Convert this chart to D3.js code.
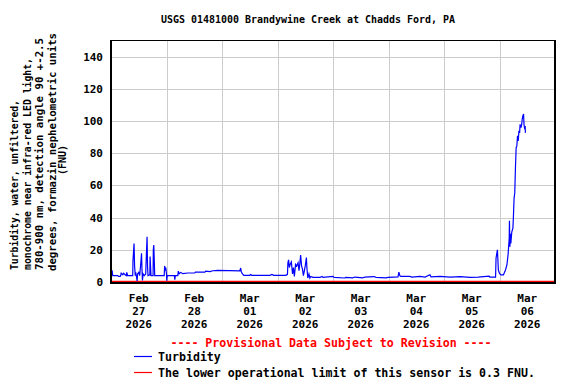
<!DOCTYPE html>
<html><head><meta charset="utf-8">
<script src="https://cdn.jsdelivr.net/npm/d3@7"></script>
<style>
html,body{margin:0;padding:0;background:#fff;}
svg text{font-family:"DejaVu Sans Mono","Liberation Mono",monospace;font-weight:bold;font-size:10px;}
</style></head>
<body><svg id="c" width="576" height="384"></svg>
<script>
// ---- data (hours since 2026-02-27 00:00, turbidity FNU) ----
const hours = [0,0.1,0.5,0.75,2.9,3.3,4,4.2,4.4,5.1,5.5,6.1,6.6,6.8,7.2,9.4,9.5,9.96,10.2,10.5,10.7,11.1,11.3,11.5,12,12.4,12.9,13.2,13.4,13.6,13.9,14.4,15,15.3,15.6,15.8,16,16.8,16.9,17.1,17.3,18.2,18.3,18.5,18.7,18.9,23,23.2,23.5,23.7,24,24.1,24.3,27.4,27.6,27.8,28.9,29.1,29.5,30.2,31,33.2,36.2,36.5,40.6,41,42.8,44,46.2,55.7,56.1,56.3,56.8,57.4,60,60.4,60.9,68.7,69.6,70.4,75.6,76.3,76.5,76.8,77.1,77.5,78,78.5,78.9,79.3,79.8,80.3,80.9,81.3,81.7,82,82.4,82.8,83.2,83.6,84,84.5,84.7,85.1,85.6,86,86.4,87.3,90.4,91.3,91.7,96,96.5,101.1,101.5,104.5,105.4,108.9,109.8,113.7,114.6,118.9,119.8,124.1,124.5,124.9,125.3,129.2,130.1,133.6,135.8,137.9,138.4,142.3,146.6,151,155.3,158.8,163.5,163.9,166.3,166.5,167.1,167.5,168,168.6,169.7,170,170.6,171.2,171.7,172.2,172.3,172.5,172.7,172.9,173.3,173.8,174,174.3,174.6,174.9,175.2,175.5,175.8,176.1,176.4,176.7,176.9,177.3,177.6,177.8,178.1,178.4,178.6,178.8,179.1,179.2];
const turbidity = [4.5,7,7,4,4,3.5,3.5,4,5.5,4.5,5.5,4.5,4,6,4,4,13,24,10,4,6,2.5,0.6,5,6,4,12,17.8,8,1,5,4,5,17,28.2,10,4,4.5,15.8,10,4,4,20,23,14,4,4,10,7,9,5,0.8,4,4,1.5,4,4,6.8,5.2,6,5.2,5.6,5.6,6.1,6.1,6.8,6.5,7,7.2,7,8.7,6.5,5.2,4.2,4.2,4.7,4.2,4.2,4.7,4.2,4.2,4.8,12,13.8,9,11,12.5,5,9,3.5,11,10,12,7,12,16.7,10,8,4,7,10,15.2,9,2.5,5,2.5,3.5,2.9,2.9,3.4,2.9,3.5,2.9,2.5,2.9,2.6,3.1,2.6,3.1,3.4,2.9,2.6,2.9,3.2,6.2,4,3.5,3.5,3.1,3.5,3.1,4.5,3.2,3.5,3.1,3.3,2.9,3.1,3.6,3.0,3.0,14.8,20,7.5,5.4,4.4,4.4,5.4,7.5,10.6,16.9,27,38,22,30,24,31,33.5,40,52,55.4,71,83.5,84.6,90.8,87.7,94,92.7,98,96,98,101,103.3,104.4,98,96,97,92.7];
const lowerLimit = 0.3;
const yTicks = [0,20,40,60,80,100,120,140];
const dayMonths = ["Feb","Feb","Mar","Mar","Mar","Mar","Mar","Mar"];
const dayNums = ["27","28","01","02","03","04","05","06"];
const dayYears = ["2026","2026","2026","2026","2026","2026","2026","2026"];
const titleText = "USGS 01481000 Brandywine Creek at Chadds Ford, PA";
const yLabelLines = ["Turbidity, water, unfiltered,","monochrome near infra-red LED light,","780-900 nm, detection angle 90 +-2.5","degrees, formazin nephelometric units"];
const yLabelLast = "(FNU)";
const provisional = "---- Provisional Data Subject to Revision ----";
const legendItems = ["Turbidity","The lower operational limit of this sensor is 0.3 FNU."];

// ---- layout ----
const L=111, R=555, T=40, B=283;
const start = new Date(2026,1,27,0,0);
const end = new Date(2026,2,7,0,0);
const x = d3.scaleTime().domain([start,end]).range([L,R]);
const y = d3.scaleLinear().domain([-0.6,150.4]).range([B,T]);
const svg = d3.select("#c");
svg.append("rect").attr("width",576).attr("height",384).attr("fill","#fff");

// grid
const g = svg.append("g");
yTicks.filter(v=>v>0).forEach(v=>{
  g.append("line").attr("x1",L).attr("x2",R).attr("y1",Math.round(y(v))+0.5).attr("y2",Math.round(y(v))+0.5)
   .attr("stroke","#cccccc").attr("stroke-width",1);
});
const days = d3.timeDay.range(d3.timeDay.offset(start,1), end);
days.forEach(d=>{
  const xx=Math.round(x(d))+0.5;
  g.append("line").attr("x1",xx).attr("x2",xx).attr("y1",T).attr("y2",B).attr("stroke","#cccccc").attr("stroke-width",1);
});

// lower limit line
svg.append("line").attr("x1",L).attr("x2",R).attr("y1",y(lowerLimit)).attr("y2",y(lowerLimit))
  .attr("stroke","#ff0000").attr("stroke-width",1.5);

// data line
const data = hours.map((h,i)=>({t:d3.timeMinute.offset(start,Math.round(h*60)),v:turbidity[i]}));
svg.append("path").datum(data)
  .attr("d",d3.line().x(d=>x(d.t)).y(d=>y(d.v)))
  .attr("fill","none").attr("stroke","#0000ff").attr("stroke-width",1.2);

// frame
svg.append("rect").attr("x",L+0.5).attr("y",T+0.5).attr("width",R-L-1).attr("height",B-T-1)
  .attr("fill","none").attr("stroke","#000").attr("stroke-width",1);
svg.append("line").attr("x1",L).attr("x2",L).attr("y1",T).attr("y2",B+1).attr("stroke","#000").attr("stroke-width",2);
svg.append("line").attr("x1",L).attr("x2",R+1).attr("y1",B).attr("y2",B).attr("stroke","#000").attr("stroke-width",2);
svg.append("line").attr("x1",R).attr("x2",R).attr("y1",T).attr("y2",B+1).attr("stroke","#000").attr("stroke-width",2);

// y tick labels
yTicks.forEach(v=>{
  svg.append("text").attr("x",103).attr("y",y(v)).attr("dy","0.36em").attr("text-anchor","end")
    .style("font-size","11px").text(v);
});

// x tick labels
dayNums.forEach((n,i)=>{
  const cx = x(d3.timeHour.offset(start, i*24+12));
  [dayMonths[i],n,dayYears[i]].forEach((s,k)=>{
    svg.append("text").attr("x",cx).attr("y",302+k*13).attr("text-anchor","middle")
      .style("font-size","11px").text(s);
  });
});

// title
svg.append("text").attr("x",308).attr("y",23).attr("text-anchor","middle")
  .style("font-size","10.5px").attr("textLength",294).attr("lengthAdjust","spacingAndGlyphs").text(titleText);

// y label
const yl=[14,27,39,52];
const ylStart=[270,270,270,271];
const ylLen=[170,212,232,238];
yLabelLines.forEach((s,i)=>{
  svg.append("text").attr("transform",`translate(${yl[i]+3.5},${ylStart[i]}) rotate(-90)`).attr("text-anchor","start")
    .attr("textLength",ylLen[i]).attr("lengthAdjust","spacingAndGlyphs").text(s);
});
svg.append("text").attr("transform",`translate(${62+3.5},160) rotate(-90)`).attr("text-anchor","middle").text(yLabelLast);

// legend
svg.append("text").attr("x",331).attr("y",347).attr("text-anchor","middle").attr("fill","#ff0000")
  .style("font-size","11.6px").text(provisional);
svg.append("line").attr("x1",134).attr("x2",152).attr("y1",356.5).attr("y2",356.5).attr("stroke","#0000ff").attr("stroke-width",1.2);
svg.append("text").attr("x",158).attr("y",361).style("font-size","11.6px").text(legendItems[0]);
svg.append("line").attr("x1",134).attr("x2",152).attr("y1",372.5).attr("y2",372.5).attr("stroke","#ff0000").attr("stroke-width",1.2);
svg.append("text").attr("x",158).attr("y",377).style("font-size","11.6px").text(legendItems[1]);
</script></body></html>
